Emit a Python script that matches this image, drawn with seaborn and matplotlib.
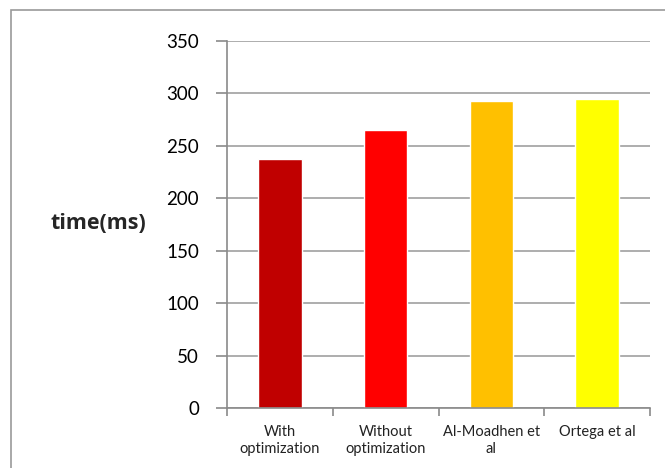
import matplotlib
matplotlib.use("Agg")
import matplotlib.pyplot as plt
import matplotlib.patches as mpatches
import seaborn as sns
import pandas as pd

categories = ["With\noptimization", "Without\noptimization", "Al-Moadhen et\nal", "Ortega et al"]
times_ms = [237, 265, 293, 295]
bar_colors = ["#C00000", "#FF0000", "#FFC000", "#FFFF00"]
y_ticks = [0, 50, 100, 150, 200, 250, 300, 350]

sns.set_theme(style="white")
plt.rcParams["font.family"] = ["Lato", "DejaVu Sans"]

df = pd.DataFrame({"method": categories, "time": times_ms})

fig = plt.figure(figsize=(6.65, 4.68), dpi=100)
ax = fig.add_axes([227 / 665, 1 - 408 / 468, 423 / 665, 367 / 468])

# outer frame of the chart area
fig.patches.append(mpatches.Rectangle((11 / 665, -0.1), 1.0, 1 - 10 / 468 + 0.1,
                                      transform=fig.transFigure, fill=False,
                                      edgecolor="#9a9a9a", linewidth=1.2))

sns.barplot(data=df, x="method", y="time", hue="method", palette=bar_colors,
            width=0.41, legend=False, ax=ax, saturation=1)

ax.set_ylim(0, 350)
ax.set_xlim(-0.5, 3.5)
ax.set_yticks(y_ticks)
ax.set_yticklabels([str(t) for t in y_ticks], fontsize=13.5, color="black")
ax.yaxis.grid(True, color="#a0a0a0", linewidth=1.2)
ax.set_axisbelow(True)

# category boundaries carry the x tick marks
ax.set_xticks([-0.5, 0.5, 1.5, 2.5, 3.5])
ax.set_xticklabels([])
ax.set_xticks(range(4), minor=True)
ax.set_xticklabels(categories, minor=True, fontsize=10.5, color="#222222", linespacing=1.3)
ax.tick_params(axis="x", which="major", direction="out", length=6, width=1.2, color="#8a8a8a")
ax.tick_params(axis="x", which="minor", length=0, pad=12)
ax.tick_params(axis="y", direction="out", length=8, width=1.2, color="#8a8a8a", pad=12)
ax.xaxis.set_ticks_position("bottom")
ax.yaxis.set_ticks_position("left")

for side in ["top", "right"]:
    ax.spines[side].set_visible(False)
for side in ["left", "bottom"]:
    ax.spines[side].set_color("#8a8a8a")
    ax.spines[side].set_linewidth(1.2)

ax.set_xlabel("")
ax.set_ylabel("time(ms)", fontsize=15.5, fontweight="bold", rotation=0, labelpad=0,
              family=["Open Sans", "DejaVu Sans"], va="center", ha="center")
ax.yaxis.set_label_coords(-0.305, 0.502)

fig.savefig("out.png", dpi=100)
